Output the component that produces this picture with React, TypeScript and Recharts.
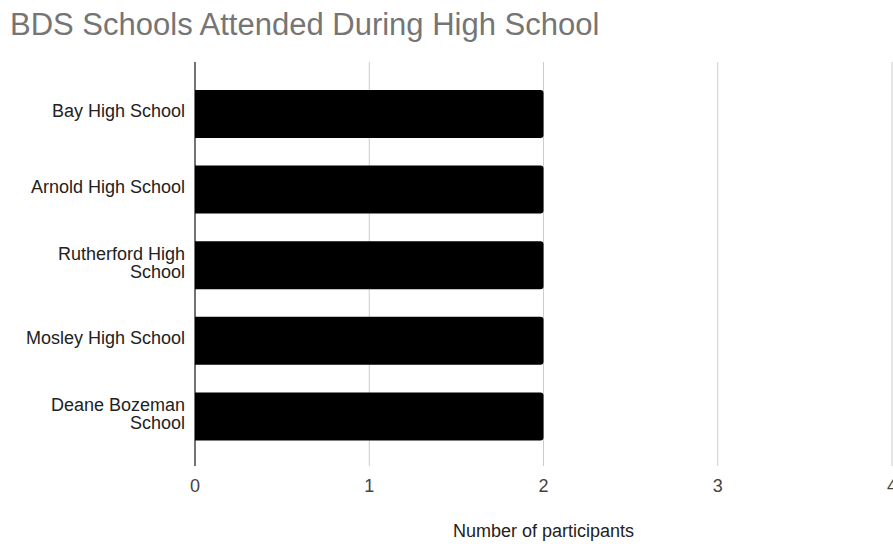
import React from 'react';
import { BarChart, Bar, XAxis, YAxis, CartesianGrid, Label } from 'recharts';

const FONT = '"Liberation Sans", Arial, sans-serif';

const schools = [
  'Bay High School',
  'Arnold High School',
  'Rutherford High School',
  'Mosley High School',
  'Deane Bozeman School',
];
const participants = [2, 2, 2, 2, 2];
const xTicks = [0, 1, 2, 3, 4];

const data = schools.map((school, i) => ({ school, participants: participants[i] }));

// greedy word wrap by character count
const wrapLabel = (label: string, maxChars: number) => {
  const lines: string[] = [];
  let current = '';
  label.split(' ').forEach((word) => {
    const next = current ? `${current} ${word}` : word;
    if (next.length > maxChars && current) {
      lines.push(current);
      current = word;
    } else {
      current = next;
    }
  });
  if (current) lines.push(current);
  return lines;
};

// Right-aligned category labels, two lines when too long
const SchoolTick = (props: any) => {
  const { x, y, payload } = props;
  const lines = wrapLabel(String(payload.value), 19);
  const lineHeight = 18;
  const firstBaseline = y + 3.5 - ((lines.length - 1) * lineHeight) / 2;
  return (
    <text x={x} y={firstBaseline} textAnchor="end" fill="#222222" fontSize={18} fontFamily={FONT}>
      {lines.map((line, i) => (
        <tspan key={i} x={x} dy={i === 0 ? 0 : lineHeight}>
          {line}
        </tspan>
      ))}
    </text>
  );
};

const App: React.FC = () => {
  return (
    <div style={{ position: 'absolute', left: 0, top: 0, width: 893, height: 544, background: '#fff', fontFamily: FONT }}>
      <div
        style={{
          position: 'absolute',
          left: 10,
          top: 9,
          fontSize: 31,
          lineHeight: '31px',
          color: '#757575',
          whiteSpace: 'nowrap',
        }}
      >
        BDS Schools Attended During High School
      </div>
      <BarChart
        width={893}
        height={544}
        data={data}
        layout="vertical"
        margin={{ top: 62, right: 1, bottom: 0, left: 0 }}
      >
        <CartesianGrid horizontal={false} stroke="#cccccc" strokeWidth={1} />
        <XAxis
          type="number"
          domain={[0, 4]}
          ticks={xTicks}
          interval={0}
          height={78}
          axisLine={false}
          tickLine={false}
          tickSize={0}
          tickMargin={13}
          tick={{ fill: '#444444', fontSize: 18, fontFamily: FONT }}
        >
          <Label
            value="Number of participants"
            position="insideBottom"
            offset={7}
            style={{ fill: '#222222', fontSize: 18, fontFamily: FONT }}
          />
        </XAxis>
        <YAxis
          type="category"
          dataKey="school"
          width={195}
          padding={{ top: 14, bottom: 12 }}
          axisLine={{ stroke: '#000000', strokeWidth: 1 }}
          tickLine={false}
          tickSize={0}
          tickMargin={10}
          interval={0}
          tick={<SchoolTick />}
        />
        <Bar
          dataKey="participants"
          fill="#000000"
          barSize={48}
          radius={[0, 3, 3, 0]}
          isAnimationActive={false}
        />
      </BarChart>
    </div>
  );
};

export default App;
